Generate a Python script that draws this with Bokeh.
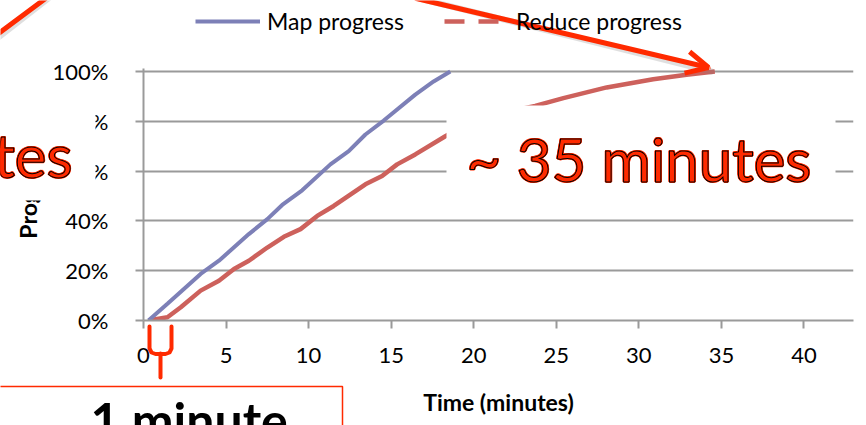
from bokeh.plotting import figure
from bokeh.models import (Range1d, Legend, LegendItem, Arrow, OpenHead, FixedTicker,
                          NumeralTickFormatter)
from bokeh.core.properties import value
from bokeh.embed import file_html
from bokeh.resources import INLINE

# ---------------- data ----------------
map_time = [0.3, 1.45, 3.46, 4.57, 6.38, 7.5, 8.4, 9.61, 11.32, 12.43, 13.44, 14.55, 16.46, 17.57, 18.58]
map_progress = [0.0, 0.067, 0.187, 0.24, 0.347, 0.407, 0.464, 0.523, 0.627, 0.68, 0.747, 0.803, 0.907, 0.96, 1.0]

reduce_time = [0.3, 1.45, 2.26, 3.46, 4.57, 5.48, 6.38, 7.5, 8.5, 9.51, 10.52, 11.52, 13.44, 14.45,
               15.36, 16.46, 18.28, 19.5, 21.0, 22.5, 23.72, 25.43, 28.05, 30.87, 32.89, 34.6]
reduce_progress = [0.0, 0.013, 0.053, 0.12, 0.16, 0.207, 0.24, 0.293, 0.336, 0.367, 0.42, 0.46, 0.547, 0.58,
                   0.627, 0.667, 0.74, 0.785, 0.82, 0.845, 0.862, 0.893, 0.936, 0.969, 0.987, 1.0]

x_ticks = [0, 5, 10, 15, 20, 25, 30, 35, 40]
y_ticks = [0.0, 0.2, 0.4, 0.6, 0.8, 1.0]
series_labels = ["Map progress", "Reduce progress"]
x_title = "Time (minutes)"
y_title = "Progress"
note_long = "~ 35 minutes"
note_left = "tes"
note_short = "1 minute"

# ---------------- geometry / style ----------------
W, H = 866, 425
FL, FR, FT, FB = 143, 853, 68, 320
X0, X1 = 0, 43
Y0, Y1 = 0, 1.012

BLUE = "#7d80b7"
RED = "#cd615c"
ARROW = "#ff2a00"
GRID = "#9a9a9a"
FONT = "Lato"
NAN = float("nan")

# ================= chart =================
p = figure(width=W, height=H, output_backend="svg", toolbar_location=None,
           x_range=Range1d(X0, X1), y_range=Range1d(Y0, Y1),
           min_border_left=FL, min_border_right=W - FR, min_border_top=FT, min_border_bottom=H - FB)
p.outline_line_color = None
p.background_fill_color = "white"
p.border_fill_color = "white"

p.xgrid.visible = False
p.ygrid.ticker = FixedTicker(ticks=y_ticks)
p.ygrid.grid_line_color = GRID
p.ygrid.grid_line_width = 2

for ax in (p.xaxis[0], p.yaxis[0]):
    ax.axis_line_color = GRID
    ax.axis_line_width = 2
    ax.major_tick_line_color = GRID
    ax.major_tick_line_width = 2
    ax.major_tick_in = 0
    ax.major_tick_out = 8
    ax.minor_tick_line_color = None
    ax.major_label_text_font = FONT
    ax.major_label_text_font_size = "22px"
    ax.major_label_text_color = "black"
    ax.axis_label_text_font = FONT
    ax.axis_label_text_font_style = "bold"
    ax.axis_label_text_font_size = "23px"
    ax.axis_label_text_color = "black"

p.xaxis.ticker = FixedTicker(ticks=x_ticks)
p.xaxis.major_label_standoff = 19
p.xaxis.axis_label = x_title
p.xaxis.axis_label_standoff = 22

p.yaxis.ticker = FixedTicker(ticks=y_ticks)
p.yaxis.formatter = NumeralTickFormatter(format="0%")
p.yaxis.major_label_standoff = 27
p.yaxis.axis_label = y_title
p.yaxis.axis_label_standoff = 8

p.line(reduce_time, reduce_progress, line_color=RED, line_width=4.5)
p.line(map_time, map_progress, line_color=BLUE, line_width=4)

# ================= slide overlay (pixel coordinates, y downward) =================
o = figure(width=W, height=H, output_backend="svg", toolbar_location=None,
           x_range=Range1d(0, W), y_range=Range1d(H, 0), min_border=0,
           x_axis_location=None, y_axis_location=None)
o.outline_line_color = None
o.background_fill_color = None
o.border_fill_color = None
o.grid.visible = False
o.styles = {"position": "absolute", "left": "0px", "top": "0px"}

# legend keys drawn with the series styles
k_map = o.line([NAN, NAN], [NAN, NAN], line_color=BLUE, line_width=4)
k_red = o.line([NAN, NAN], [NAN, NAN], line_color=RED, line_width=4.5, line_dash="20 14")
legend = Legend(items=[LegendItem(label=series_labels[0], renderers=[k_map]),
                       LegendItem(label=series_labels[1], renderers=[k_red])],
                location=(195, H - 35), orientation="horizontal",
                glyph_width=65, glyph_height=20, label_standoff=7, spacing=40,
                padding=0, margin=0, border_line_alpha=0, background_fill_alpha=0,
                label_text_font=FONT, label_text_font_size="23px", label_text_color="black")
o.add_layout(legend, "center")

# white text boxes
o.quad(left=[446, -5], right=[835, 95], top=[105, 88], bottom=[215, 200],
       fill_color="white", line_color=None)
o.quad(left=[-5], right=[342], top=[386], bottom=[445],
       fill_color="white", line_color=ARROW, line_width=1.5)


def outlined(text, x, y, align):
    hx, hy = [], []
    for ox, oy in [(-1, 0), (1, 0), (0, -1), (0, 1), (-0.8, -0.8), (0.8, 0.8), (-0.8, 0.8), (0.8, -0.8)]:
        hx.append(x + ox)
        hy.append(y + oy)
    o.text(hx, hy, text=[text] * len(hx), text_font=value(FONT), text_font_size="60px",
           text_color=ARROW, text_align=align, text_baseline="alphabetic")
    o.text([x], [y], text=[text], text_font=value(FONT), text_font_size="60px",
           text_color=ARROW, text_outline_color="black", text_align=align, text_baseline="alphabetic")


outlined(note_long, 466, 158, "left")
outlined(note_left, 72, 154, "right")

o.text([90], [419], text=[note_short], text_font=value(FONT), text_font_size="50px",
       text_font_style="bold", text_color="black", text_align="left", text_baseline="alphabetic")


def seg(x0, y0, x1, y1, color=ARROW, width=5, alpha=1.0, head=None):
    o.add_layout(Arrow(x_start=x0, y_start=y0, x_end=x1, y_end=y1, end=head,
                       line_color=color, line_width=width, line_alpha=alpha, line_cap="round"))


# arrow shadows
seg(419, -2, 711, 71, color="#808080", width=6, alpha=0.25)
seg(48, -2, -2, 37, color="#808080", width=6, alpha=0.25)
# arrows
seg(416, -2, 708, 67, head=OpenHead(size=22, line_color=ARROW, line_width=5))
seg(45, -2, -2, 33)

# bracket under the first minute
o.line([149, 149, 151, 155, 165, 169, 171, 171], [326, 348, 352, 353.5, 353.5, 352, 348, 326],
       line_color=ARROW, line_width=4, line_join="round", line_cap="round")
o.line([160, 160], [353, 377], line_color=ARROW, line_width=4, line_cap="round")

open("out.html", "w").write(file_html([p, o], INLINE))
